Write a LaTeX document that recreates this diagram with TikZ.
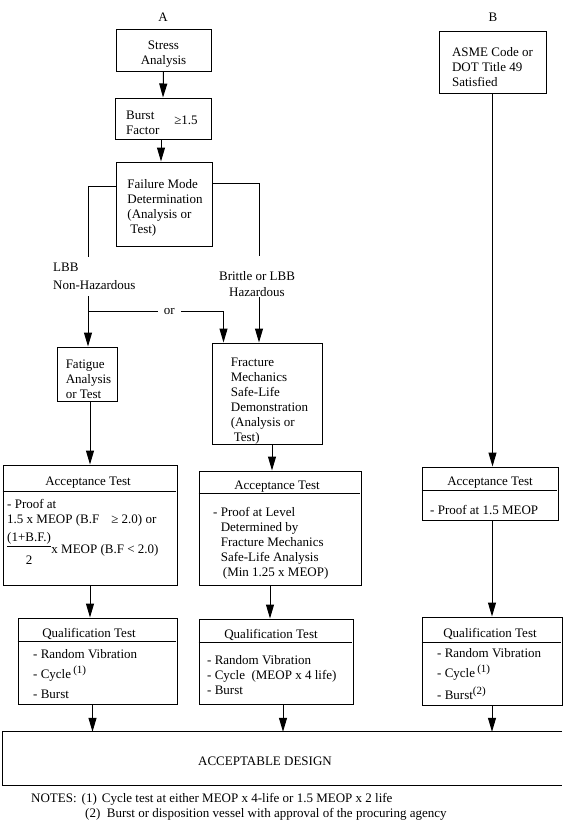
\documentclass[tikz,border=0pt]{standalone}
\usepackage{fontspec}
\setmainfont{Liberation Serif}
\usepackage{tikz}
\usetikzlibrary{arrows.meta}
\usetikzlibrary{positioning,calc}
\newcommand{\noteMark}[1]{\raisebox{5pt}{\fontsize{11}{11}\selectfont(#1)}}
\tikzset{
    boxFrame/.style={
        ,   draw
        ,   rectangle
        ,   line width=1pt
        ,   inner sep=0pt
    },
    boxText/.style={
        ,   anchor=west
        ,   align=left
        ,   inner sep=0pt
    },
    flowLine/.style={
        ,   line width=1pt
    },
    flowArrow/.style={
        ,   line width=1pt
        ,   -{Triangle[length=14pt,width=8pt]}
    }
}

\begin{document}
\begin{tikzpicture}[x=1pt, y=-1pt, inner sep=0pt, font={\fontsize{13}{15}\selectfont}]
\useasboundingbox (0,0) rectangle (569,825);

% column A
\node (A) at (163,17) {A};
\node[boxFrame, minimum width=95pt, minimum height=42pt] (stress) at (163.5,50) {};
\node[align=center] (stressT) at ([yshift=-4.5pt]stress.center) {Stress\\Analysis};
\node[boxFrame, minimum width=96pt, minimum height=41pt] (burst) at (163,118.5) {};
\node[boxText] (burstT) at (126,122.5) {Burst\\Factor};
\node (burstV) at (186,120) {≥1.5};
\node[boxFrame, minimum width=96pt, minimum height=84pt] (fail) at (164,204) {};
\node[align=left] (failT) at ([xshift=1pt, yshift=-4pt]fail.center) {Failure Mode\\Determination\\(Analysis or\\\hspace{3pt}Test)};

\coordinate (lbbTop) at (88,257);
\coordinate (lbbBot) at (88,296);
\coordinate (orL) at (88,311);
\coordinate (britTop) at (259,256);
\coordinate (britBot) at (259,297);
\node[boxText] (lbb) at (53,276) {LBB\\[3pt]Non-Hazardous};
\node[align=center] (brit) at (257,284) {Brittle or LBB\\[1pt]Hazardous};

\node[boxFrame, minimum width=60pt, minimum height=54pt] (fatigue) at (87,374) {};
\node[align=left] (fatigueT) at ([xshift=1.5pt, yshift=-5pt]fatigue.center) {Fatigue\\Analysis\\or Test};
\node[boxFrame, minimum width=110pt, minimum height=101pt] (fracture) at (267,393.5) {};
\node[align=left] (fractureT) at ([xshift=2.5pt, yshift=-7.5pt]fracture.center) {Fracture\\Mechanics\\Safe-Life\\Demonstration\\(Analysis or\\\hspace{3pt}Test)};

% column B
\node (B) at (493,17) {B};
\node[boxFrame, minimum width=107pt, minimum height=62pt] (asme) at (492.5,62) {};
\node[align=left] (asmeT) at ([yshift=-5pt]asme.center) {ASME Code or\\DOT Title 49\\Satisfied};

% test boxes
\node[boxFrame, minimum width=174pt, minimum height=120pt] (accL) at (90,525) {};
\node[boxFrame, minimum width=162pt, minimum height=114pt] (accM) at (280,528) {};
\node[boxFrame, minimum width=136pt, minimum height=53pt] (accR) at (490,493.5) {};
\node[boxFrame, minimum width=159pt, minimum height=86pt] (qualL) at (97.5,661) {};
\node[boxFrame, minimum width=154pt, minimum height=85pt] (qualM) at (276,661.5) {};
\node[boxFrame, minimum width=140pt, minimum height=88pt] (qualR) at (492,661) {};
\foreach \b/\d in {accL/27,accM/23,accR/24,qualL/24,qualM/24,qualR/26}{
  \draw[flowLine] ([yshift=-\d pt]\b.north west) -- ([yshift=-\d pt, xshift=-2pt]\b.north east);
}

\node (accLT) at (88,483) {Acceptance Test};
\node (accMT) at (277,487) {Acceptance Test};
\node (accRT) at (490,483) {Acceptance Test};
\node (qualLT) at (89,634) {Qualification Test};
\node (qualMT) at (271,635) {Qualification Test};
\node (qualRT) at (490,634) {Qualification Test};

\node[boxText] (accLB) at (7,513) {- Proof at\\1.5 x MEOP (B.F\hspace{12pt}≥ 2.0) or};
\node[boxText] (accLF) at (7,550) {\begin{tabular}{@{}c@{}}(1+B.F.)\\\hline\rule{0pt}{19pt}2\end{tabular}};
\node[boxText] (accLR) at (accLF.east) {x MEOP (B.F < 2.0)};
\node[boxText] (accMB) at (213,543) {- Proof at Level\\\phantom{- }Determined by\\\phantom{- }Fracture Mechanics\\\phantom{- }Safe-Life Analysis\\\phantom{- }\,(Min 1.25 x MEOP)};
\node[boxText] (accRB) at (430,510.5) {- Proof at 1.5 MEOP};
\node[boxText] (qualLB) at (33,674) {- Random Vibration\\[5pt]- Cycle\,\noteMark{1}\\[5pt]- Burst};
\node[boxText] (qualMB) at (207,675) {- Random Vibration\\- Cycle\ \ (MEOP x 4 life)\\- Burst};
\node[boxText] (qualRB) at (437,674) {- Random Vibration\\[5pt]- Cycle\,\noteMark{1}\\[5pt]- Burst\noteMark{2}};

% bottom
\node[minimum width=559pt, minimum height=53pt] (design) at (282.5,758.5) {};
\draw[flowLine] (design.north east) -- (design.north west) -- (design.south west) -- (design.south east);
\node (designT) at (265,761) {ACCEPTABLE DESIGN};
\node[boxText] (note1) at (31,799) {NOTES:\hspace{5pt}(1)\hspace{5pt}Cycle test at either MEOP x 4-life or 1.5 MEOP x 2 life};
\node[boxText] (note2) at (85,814) {(2)\ \ Burst or disposition vessel with approval of the procuring agency};

% connectors
\draw[flowArrow] (stress.south) -- (burst.north);
\draw[flowArrow] ([xshift=-2pt]burst.south) -- ([xshift=-2pt]burst.south |- fail.north);
\draw[flowLine] ([yshift=18pt]fail.west) -| (lbbTop);
\draw[flowLine] ([yshift=21pt]fail.east) -| (britTop);
\draw[flowArrow] (lbbBot) -- (lbbBot |- fatigue.north);
\draw[flowArrow] (orL) -| node[pos=0.3, fill=white, inner xsep=6pt] (orLbl) {or} ([xshift=12pt]fracture.north west);
\draw[flowArrow] (britBot) -- (britBot |- fracture.north);
\draw[flowArrow] (accL.north |- fatigue.south) -- (accL.north);
\draw[flowArrow] ([xshift=5pt]fracture.south) -- ([xshift=5pt]fracture.south |- accM.north);
\draw[flowArrow] (asme.south) -- (asme.south |- accR.north);
\draw[flowArrow] (accL.south) -- (accL.south |- qualL.north);
\draw[flowArrow] ([xshift=-10pt]accM.south) -- ([xshift=-10pt]accM.south |- qualM.north);
\draw[flowArrow] (qualR.north |- accR.south) -- (qualR.north);
\draw[flowArrow] ([xshift=-5pt]qualL.south) -- ([xshift=-5pt]qualL.south |- design.north);
\draw[flowArrow] ([xshift=7pt]qualM.south) -- ([xshift=7pt]qualM.south |- design.north);
\draw[flowArrow] (qualR.south) -- (qualR.south |- design.north);
\end{tikzpicture}
\end{document}
